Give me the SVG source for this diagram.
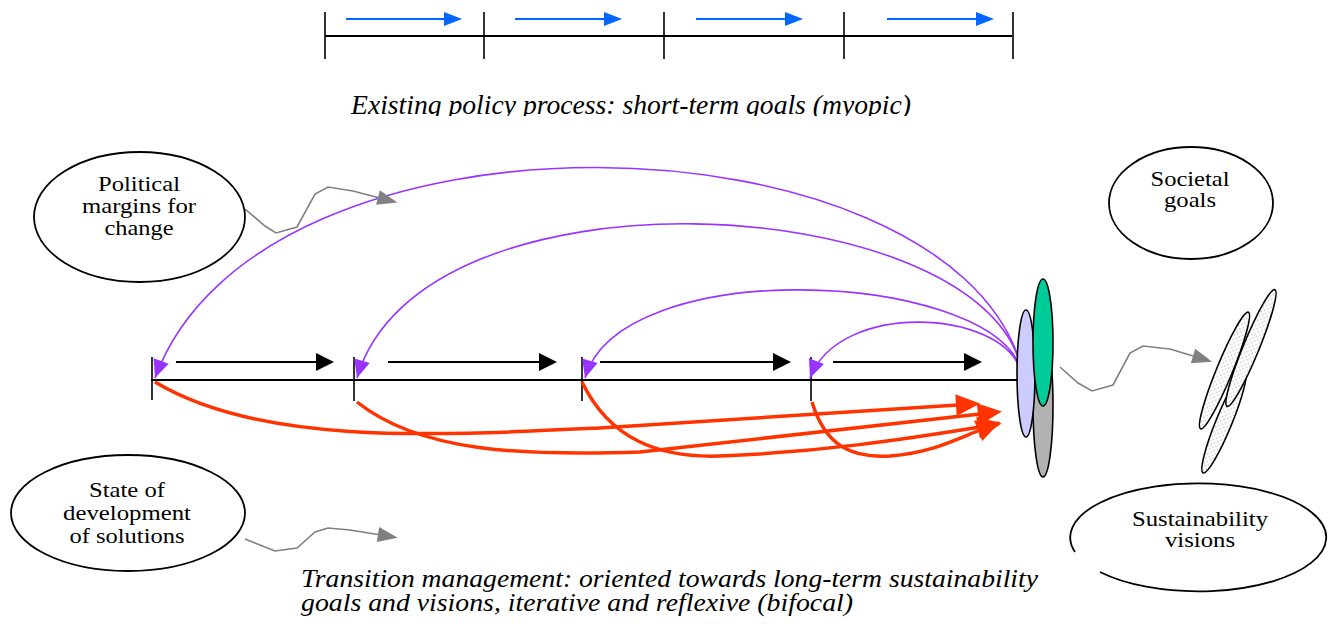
<svg xmlns="http://www.w3.org/2000/svg" width="1330" height="624" viewBox="0 0 1330 624">
<style>
  .lbl{font-size:22px;fill:#000;text-anchor:middle}
  .cap{font-style:italic;font-size:26px;fill:#000}
  .node{fill:#fff;stroke:#000;stroke-width:1.8}
  .tick{stroke:#000;stroke-width:1.6}
  .axis{stroke:#000;stroke-width:2}
  .blue{stroke:#0066FF;stroke-width:2;fill:none}
  .blk{stroke:#000;stroke-width:2;fill:none}
  .pur{stroke:#9933FF;stroke-width:1.6;fill:none}
  .red{stroke:#FF3300;stroke-width:3.5;fill:none}
  .gry{stroke:#808080;stroke-width:1.6;fill:none}
  .dot{fill:url(#dots);stroke:#000;stroke-width:1.6}
  .stk{stroke:#000;stroke-width:1.6}
</style>
<defs>
  <marker id="mBlue" markerUnits="userSpaceOnUse" markerWidth="20" markerHeight="16" refX="0" refY="7" orient="auto" overflow="visible"><path d="M0,0 L18,7 L0,14 z" fill="#0066FF"/></marker>
  <marker id="mBlk" markerUnits="userSpaceOnUse" markerWidth="20" markerHeight="20" refX="0" refY="9" orient="auto" overflow="visible"><path d="M0,0 L18,9 L0,18 z" fill="#000"/></marker>
  <marker id="mPur" markerUnits="userSpaceOnUse" markerWidth="20" markerHeight="18" refX="18" refY="8" orient="auto" overflow="visible"><path d="M0,0 L18,8 L0,16 z" fill="#9933FF"/></marker>
  <marker id="mRed" markerUnits="userSpaceOnUse" markerWidth="26" markerHeight="24" refX="2" refY="11" orient="auto" overflow="visible"><path d="M0,0 L24,11 L0,22 z" fill="#FF3300"/></marker>
  <marker id="mGry" markerUnits="userSpaceOnUse" markerWidth="22" markerHeight="16" refX="0" refY="7.5" orient="auto" overflow="visible"><path d="M0,0 L20,7.5 L0,15 z" fill="#808080"/></marker>
  <pattern id="dots" patternUnits="userSpaceOnUse" width="5" height="5">
    <rect width="5" height="5" fill="#fff"/>
    <circle cx="1.2" cy="1.2" r="0.8" fill="#bbbbbb"/>
    <circle cx="3.7" cy="3.7" r="0.8" fill="#bbbbbb"/>
  </pattern>
  <clipPath id="clipTop"><rect x="0" y="0" width="1330" height="116"/></clipPath>
</defs>

<g id="top-timeline">
  <line class="axis" x1="325" y1="36" x2="1012" y2="36"/>
  <line class="tick" x1="325" y1="12" x2="325" y2="59"/>
  <line class="tick" x1="484" y1="12" x2="484" y2="59"/>
  <line class="tick" x1="664" y1="12" x2="664" y2="59"/>
  <line class="tick" x1="844" y1="12" x2="844" y2="59"/>
  <line class="tick" x1="1013" y1="12" x2="1013" y2="59"/>
  <line class="blue" x1="346" y1="19" x2="444" y2="19" marker-end="url(#mBlue)"/>
  <line class="blue" x1="515" y1="19" x2="604" y2="19" marker-end="url(#mBlue)"/>
  <line class="blue" x1="696" y1="19" x2="785" y2="19" marker-end="url(#mBlue)"/>
  <line class="blue" x1="887" y1="19" x2="976" y2="19" marker-end="url(#mBlue)"/>
  <g clip-path="url(#clipTop)">
    <text font-family="Liberation Serif" font-style="italic" font-size="28" fill="#000" x="351" y="114" textLength="560" lengthAdjust="spacingAndGlyphs">Existing policy process: short-term goals (myopic)</text>
  </g>
</g>

<g id="main-timeline">
  <line class="axis" x1="151" y1="380" x2="1018" y2="380"/>
  <line class="tick" x1="152" y1="357" x2="152" y2="400"/>
  <line class="tick" x1="354" y1="357" x2="354" y2="401"/>
  <line class="tick" x1="582" y1="357" x2="582" y2="401"/>
  <line class="tick" x1="811" y1="357" x2="811" y2="401"/>
</g>

<g id="connectors">
  <line class="blk" x1="176" y1="362" x2="316" y2="362" marker-end="url(#mBlk)"/>
  <line class="blk" x1="388" y1="362" x2="539" y2="362" marker-end="url(#mBlk)"/>
  <line class="blk" x1="600" y1="362" x2="773" y2="362" marker-end="url(#mBlk)"/>
  <line class="blk" x1="833" y1="362" x2="964" y2="362" marker-end="url(#mBlk)"/>

  <path class="pur" d="M1020,362 C940,110 260,90 155,378" marker-end="url(#mPur)"/>
  <path class="pur" d="M1020,363 C970,190 420,160 357,378" marker-end="url(#mPur)"/>
  <path class="pur" d="M1020,366 C980,270 620,255 585,378" marker-end="url(#mPur)"/>
  <path class="pur" d="M1020,369 C1000,310 840,300 810,378" marker-end="url(#mPur)"/>

  <path class="red" d="M155,382 C260,445 430,436 600,428 L958,405" marker-end="url(#mRed)"/>
  <path class="red" d="M357,402 C420,452 520,456 640,452 L980,414" marker-end="url(#mRed)"/>
  <path class="red" d="M582,382 C610,440 660,458 720,456 C820,452 900,440 980,427" marker-end="url(#mRed)"/>
  <path class="red" d="M812,402 C825,445 850,458 890,456 C930,453 955,440 980,430" marker-end="url(#mRed)"/>

  <polyline class="gry" points="245,209 265,226 276,233 297,227 315,194 328,187 353,191 378,197.5" marker-end="url(#mGry)"/>
  <polyline class="gry" points="245,539 275,551 297,548 315,532 328,528 350,530 378,534.5" marker-end="url(#mGry)"/>
  <polyline class="gry" points="1060,367 1078,383 1092,391 1113,385 1130,353 1143,346 1170,349 1193,356" marker-end="url(#mGry)"/>
</g>

<g id="node-political" font-family="Liberation Serif, Times New Roman, serif">
  <ellipse class="node" cx="139.5" cy="217" rx="105.5" ry="65"/>
  <text class="lbl" x="139" y="191" textLength="82" lengthAdjust="spacingAndGlyphs">Political</text>
  <text class="lbl" x="139" y="213" textLength="114" lengthAdjust="spacingAndGlyphs">margins for</text>
  <text class="lbl" x="139" y="235" textLength="69" lengthAdjust="spacingAndGlyphs">change</text>
</g>

<g id="node-societal" font-family="Liberation Serif, Times New Roman, serif">
  <ellipse class="node" cx="1191" cy="203" rx="82" ry="56"/>
  <text class="lbl" x="1190" y="186" textLength="79" lengthAdjust="spacingAndGlyphs">Societal</text>
  <text class="lbl" x="1190" y="207" textLength="52" lengthAdjust="spacingAndGlyphs">goals</text>
</g>

<g id="node-state" font-family="Liberation Serif, Times New Roman, serif">
  <ellipse class="node" cx="128" cy="513" rx="117" ry="58"/>
  <text class="lbl" x="127" y="497" textLength="76" lengthAdjust="spacingAndGlyphs">State of</text>
  <text class="lbl" x="127" y="520" textLength="128" lengthAdjust="spacingAndGlyphs">development</text>
  <text class="lbl" x="127" y="543" textLength="115" lengthAdjust="spacingAndGlyphs">of solutions</text>
</g>

<g id="node-sustainability" font-family="Liberation Serif, Times New Roman, serif">
  <path class="node" d="M1100,572 A128 54 0 1 0 1075,552"/>
  <text class="lbl" x="1200" y="526" textLength="136" lengthAdjust="spacingAndGlyphs">Sustainability</text>
  <text class="lbl" x="1200" y="547" textLength="70" lengthAdjust="spacingAndGlyphs">visions</text>
</g>

<g id="goal-stack">
  <ellipse class="stk" fill="#B2B2B2" cx="1043" cy="405" rx="10" ry="72"/>
  <ellipse class="stk" fill="#CCCCFF" cx="1026" cy="373.5" rx="9" ry="63.5"/>
  <ellipse class="stk" fill="#00CC99" cx="1043" cy="342.5" rx="10" ry="63.5"/>
</g>

<g id="vision-shapes">
  <ellipse class="dot" cx="1224" cy="422" rx="55" ry="8" transform="rotate(-67.7 1224 422)"/>
  <ellipse class="dot" cx="1251" cy="348" rx="63" ry="8" transform="rotate(-67.7 1251 348)"/>
  <ellipse class="dot" cx="1224.5" cy="370.5" rx="63" ry="8" transform="rotate(-67.7 1224.5 370.5)"/>
</g>

<g id="caption-bottom" font-family="Liberation Serif, Times New Roman, serif">
  <text class="cap" x="301" y="587" textLength="737" lengthAdjust="spacingAndGlyphs">Transition management: oriented towards long-term sustainability</text>
  <text class="cap" x="301" y="611" textLength="552" lengthAdjust="spacingAndGlyphs">goals and visions, iterative and reflexive (bifocal)</text>
</g>
</svg>
